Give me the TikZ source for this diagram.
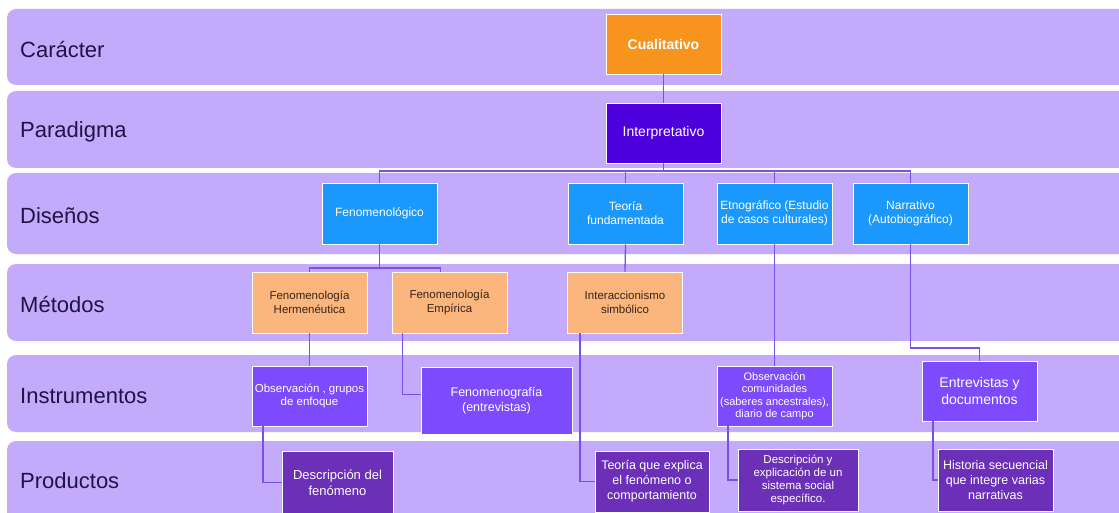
\documentclass[tikz,border=0pt]{standalone}
\usepackage{fontspec}
\setmainfont{Liberation Sans}
\usetikzlibrary{calc}
\definecolor{bandcol}{HTML}{C4AAFB}
\definecolor{labelcol}{HTML}{1E1446}
\definecolor{cualcol}{HTML}{F7941D}
\definecolor{interpcol}{HTML}{4E00DC}
\definecolor{designcol}{HTML}{1B98FC}
\definecolor{methodcol}{HTML}{FAB67C}
\definecolor{methodtext}{HTML}{3A2418}
\definecolor{instrcol}{HTML}{7D4BFC}
\definecolor{prodcol}{HTML}{6B2FB8}
\definecolor{linecol}{HTML}{7B50E6}
\tikzset{
  bandbox/.style={fill=bandcol, rounded corners=9pt},
  bandlabel/.style={anchor=base west, inner sep=0pt, text=labelcol, font=\fontsize{22}{26}\selectfont},
  conn/.style={draw=linecol, line width=1.3pt},
  cell/.style={draw=white, line width=0.9pt, align=center, inner sep=1pt},
  cualbox/.style={cell, fill=cualcol, text=white, minimum width=115pt, minimum height=60pt, font=\fontsize{14}{17}\selectfont\bfseries},
  interpbox/.style={cell, fill=interpcol, text=white, minimum width=115pt, minimum height=60pt, font=\fontsize{14}{17}\selectfont},
  designbox/.style={cell, fill=designcol, text=white, minimum width=115pt, minimum height=61pt, font=\fontsize{12}{14}\selectfont},
  methodbox/.style={cell, fill=methodcol, text=methodtext, minimum width=115pt, minimum height=61pt, font=\fontsize{11.5}{13.5}\selectfont},
  instrbox/.style={cell, fill=instrcol, text=white},
  prodbox/.style={cell, fill=prodcol, text=white}
}
\begin{document}
\begin{tikzpicture}[x=1pt,y=-1pt]
\useasboundingbox (0,0) rectangle (1119,513);
\clip (0,0) rectangle (1119,513);
\fill[white] (0,0) rectangle (1119,513);

% row bands
\fill[bandbox] (7,9)   rectangle (1140,85);
\fill[bandbox] (7,91)  rectangle (1140,168);
\fill[bandbox] (7,173) rectangle (1140,254);
\fill[bandbox] (7,264) rectangle (1140,341);
\fill[bandbox] (7,355) rectangle (1140,432);
\fill[bandbox] (7,441) rectangle (1140,540);

% row labels
\node[bandlabel] (lcar)  at (20,58)  {Carácter};
\node[bandlabel] (lpar)  at (20,138) {Paradigma};
\node[bandlabel] (ldis)  at (20,223) {Diseños};
\node[bandlabel] (lmet)  at (20,312) {Métodos};
\node[bandlabel] (lins)  at (20,403) {Instrumentos};
\node[bandlabel] (lpro)  at (20,488) {Productos};

% boxes
\node[cualbox]   (cual)   at (663.5,44)   {Cualitativo};
\node[interpbox] (interp) at (663.5,133)  {Interpretativo};

\node[designbox] (fen)  at (379.5,213.5) {Fenomenológico};
\node[designbox] (teo)  at (625.5,213.5) {Teoría\\fundamentada};
\node[designbox] (etno) at (774.5,213.5) {Etnográfico (Estudio\\de casos culturales)};
\node[designbox] (narr) at (910.5,213.5) {Narrativo\\(Autobiográfico)};

\node[methodbox] (herm)  at (309.5,302.5) {Fenomenología\\Hermenéutica};
\node[methodbox] (emp)   at (449.5,302.5) {Fenomenología\\Empírica};
\node[methodbox] (inter) at (625,302.5)   {Interaccionismo\\simbólico};

\node[instrbox, minimum width=115pt, minimum height=60pt, font=\fontsize{11.5}{13.5}\selectfont]
  (obsg) at (309.5,396) {Observación , grupos\\de enfoque};
\node[instrbox, minimum width=151pt, minimum height=67pt, font=\fontsize{12.5}{15}\selectfont]
  (fgraf) at (496.5,400.5) {Fenomenografía\\(entrevistas)};
\node[instrbox, minimum width=115pt, minimum height=60pt, font=\fontsize{11}{12.5}\selectfont]
  (obsc) at (774.5,396) {Observación\\comunidades\\(saberes ancestrales),\\diario de campo};
\node[instrbox, minimum width=115pt, minimum height=60pt, font=\fontsize{14}{17}\selectfont]
  (entr) at (979.5,391) {Entrevistas y\\documentos};

\node[prodbox, minimum width=111pt, minimum height=62pt, font=\fontsize{13}{16}\selectfont]
  (desc) at (337.5,482.5) {Descripción del\\fenómeno};
\node[prodbox, minimum width=114pt, minimum height=61pt, font=\fontsize{12.5}{15}\selectfont]
  (teoexp) at (652,481.5) {Teoría que explica\\el fenómeno o\\comportamiento};
\node[prodbox, minimum width=120pt, minimum height=62pt, font=\fontsize{11.5}{13}\selectfont]
  (descsis) at (798,480) {Descripción y\\explicación de un\\sistema social\\específico.};
\node[prodbox, minimum width=115pt, minimum height=62pt, font=\fontsize{12.5}{15}\selectfont]
  (hist) at (995.5,480) {Historia secuencial\\que integre varias\\narrativas};

% connectors
\coordinate (busD) at (0,171);
\coordinate (busM) at (0,268);
\coordinate (narrbend) at (0,348);
\coordinate (empin)  at ($(emp.north)+(-9,0)$);
\coordinate (empout) at ($(emp.south)+(-47,0)$);
\coordinate (obsgout) at ($(obsg.south)+(-46.5,0)$);
\coordinate (interout) at ($(inter.south)+(-45,0)$);
\coordinate (obscout) at ($(obsc.south)+(-46.5,0)$);
\coordinate (entrout) at ($(entr.south)+(-46.5,0)$);

\draw[conn] (cual.south) -- (interp.north);
\draw[conn] (interp.south) -- (interp.south |- busD);
\draw[conn] (fen.north) -- (fen.north |- busD) -- (narr.north |- busD) -- (narr.north);
\draw[conn] (teo.north |- busD) -- (teo.north);
\draw[conn] (etno.north |- busD) -- (etno.north);

\draw[conn] (fen.south) -- (fen.south |- busM);
\draw[conn] (herm.north) -- (herm.north |- busM) -- (empin |- busM) -- (empin);
\draw[conn] (teo.south) -- (inter.north);

\draw[conn] (herm.south) -- (obsg.north);
\draw[conn] (empout) |- ($(fgraf.west)+(0,-6)$);
\draw[conn] (etno.south) -- (obsc.north);
\draw[conn] (narr.south) -- (narr.south |- narrbend) -| (entr.north);

\draw[conn] (obsgout) |- (desc.west);
\draw[conn] (interout) |- (teoexp.west);
\draw[conn] (obscout) |- (descsis.west);
\draw[conn] (entrout) |- (hist.west);
\end{tikzpicture}
\end{document}
